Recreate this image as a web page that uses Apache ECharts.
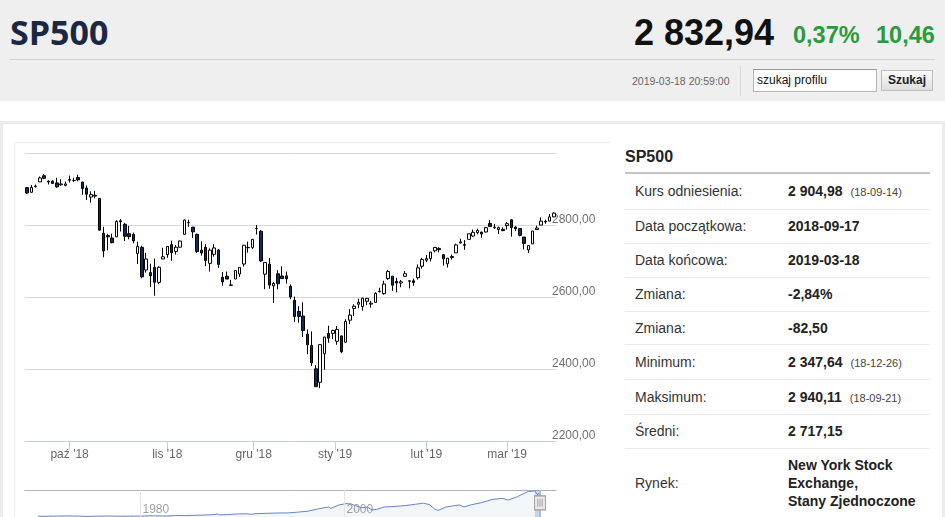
<!DOCTYPE html>
<html><head><meta charset="utf-8">
<script src="https://cdn.jsdelivr.net/npm/echarts@6/dist/echarts.min.js"></script>
<style>
html,body{margin:0;padding:0;width:945px;height:517px;overflow:hidden;background:#fff;font-family:'Liberation Sans',Arial,sans-serif;color:#333;}
.abs{position:absolute;white-space:nowrap;}
#hdr{position:absolute;left:0;top:0;width:945px;height:101px;background:#efefef;}
#panel{position:absolute;left:0;top:121px;width:945px;height:420px;border:3px solid #ececec;box-sizing:border-box;background:#fff;}
#chartbox{position:absolute;left:14px;top:142px;width:596px;height:390px;border-left:1px solid #eeeeee;border-top:1px solid #eeeeee;}
#chart{position:absolute;left:0;top:0;width:596px;height:390px;}
.row{position:absolute;left:625px;width:305px;border-bottom:1px solid #ebebeb;box-sizing:border-box;font-size:14px;}
.lab{position:absolute;left:10px;top:0;color:#333;}
.val{position:absolute;left:163px;top:0;font-weight:bold;color:#222;}
.dt{font-weight:normal;font-size:11px;color:#444;margin-left:8px;}
</style></head><body>
<div id="hdr">
  <div class="abs" style="left:10px;top:11px;line-height:42px;font-family:'Open Sans',sans-serif;font-weight:700;font-size:34px;color:#1b2844;">SP500</div>
  <div class="abs" style="left:634px;top:13px;line-height:40px;font-weight:700;font-size:36px;color:#111;">2 832,94</div>
  <div class="abs" style="left:793px;top:20px;line-height:30px;font-weight:700;font-size:23.5px;color:#2b9a3b;">0,37%</div>
  <div class="abs" style="left:876px;top:20px;line-height:30px;font-weight:700;font-size:23.5px;color:#2b9a3b;">10,46</div>
  <div class="abs" style="left:10px;top:59px;width:925px;height:1px;background:#d2d2d2;"></div>
  <div class="abs" style="left:632px;top:74px;line-height:14px;font-size:10.5px;color:#666;">2019-03-18 20:59:00</div>
  <div class="abs" style="left:740px;top:66px;width:1px;height:30px;background:#d8d8d8;"></div>
  <div class="abs" style="left:753px;top:69px;width:124px;height:23px;box-sizing:border-box;background:#fff;border:1px solid #b5b5b5;border-top-color:#999;font-size:12px;line-height:21px;padding-left:3px;color:#111;">szukaj profilu</div>
  <div class="abs" style="left:881px;top:70px;width:52px;height:21px;box-sizing:border-box;background:linear-gradient(#fbfbfb,#dedede);border:1px solid #bdbdbd;font-size:12px;font-weight:bold;line-height:19px;text-align:center;color:#222;">Szukaj</div>
</div>
<div id="panel"></div>
<div id="chartbox"><div id="chart"></div></div>

<div class="abs" style="left:625px;top:147px;line-height:20px;font-size:16px;font-weight:bold;color:#222;">SP500</div>
<div class="abs" style="left:625px;top:172px;width:305px;height:2px;background:#c4c4c4;"></div>
<div class="row" style="top:174px;height:36px;line-height:35px;"><span class="lab">Kurs odniesienia:</span><span class="val">2 904,98<span class="dt">(18-09-14)</span></span></div>
<div class="row" style="top:210px;height:34px;line-height:33px;"><span class="lab">Data początkowa:</span><span class="val">2018-09-17</span></div>
<div class="row" style="top:244px;height:34px;line-height:33px;"><span class="lab">Data końcowa:</span><span class="val">2019-03-18</span></div>
<div class="row" style="top:278px;height:34px;line-height:33px;"><span class="lab">Zmiana:</span><span class="val">-2,84%</span></div>
<div class="row" style="top:312px;height:33px;line-height:32px;"><span class="lab">Zmiana:</span><span class="val">-82,50</span></div>
<div class="row" style="top:345px;height:35px;line-height:34px;"><span class="lab">Minimum:</span><span class="val">2 347,64<span class="dt">(18-12-26)</span></span></div>
<div class="row" style="top:380px;height:35px;line-height:34px;"><span class="lab">Maksimum:</span><span class="val">2 940,11<span class="dt">(18-09-21)</span></span></div>
<div class="row" style="top:415px;height:34px;line-height:33px;"><span class="lab">Średni:</span><span class="val">2 717,15</span></div>
<div class="row" style="top:449px;height:68px;line-height:68px;border-bottom:none;"><span class="lab">Rynek:</span><span class="val" style="top:7px;line-height:18px;">New York Stock<br>Exchange,<br>Stany Zjednoczone</span></div>

<script>
// ---- data: daily candles (trading days) ----
const dates = ['2018-09-17','2018-09-18','2018-09-19','2018-09-20','2018-09-21','2018-09-24','2018-09-25','2018-09-26','2018-09-27','2018-09-28',
'2018-10-01','2018-10-02','2018-10-03','2018-10-04','2018-10-05','2018-10-08','2018-10-09','2018-10-10','2018-10-11','2018-10-12','2018-10-15','2018-10-16','2018-10-17','2018-10-18','2018-10-19','2018-10-22','2018-10-23','2018-10-24','2018-10-25','2018-10-26','2018-10-29','2018-10-30','2018-10-31',
'2018-11-01','2018-11-02','2018-11-05','2018-11-06','2018-11-07','2018-11-08','2018-11-09','2018-11-12','2018-11-13','2018-11-14','2018-11-15','2018-11-16','2018-11-19','2018-11-20','2018-11-21','2018-11-23','2018-11-26','2018-11-27','2018-11-28','2018-11-29','2018-11-30',
'2018-12-03','2018-12-04','2018-12-06','2018-12-07','2018-12-10','2018-12-11','2018-12-12','2018-12-13','2018-12-14','2018-12-17','2018-12-18','2018-12-19','2018-12-20','2018-12-21','2018-12-24','2018-12-26','2018-12-27','2018-12-28','2018-12-31',
'2019-01-02','2019-01-03','2019-01-04','2019-01-07','2019-01-08','2019-01-09','2019-01-10','2019-01-11','2019-01-14','2019-01-15','2019-01-16','2019-01-17','2019-01-18','2019-01-22','2019-01-23','2019-01-24','2019-01-25','2019-01-28','2019-01-29','2019-01-30','2019-01-31',
'2019-02-01','2019-02-04','2019-02-05','2019-02-06','2019-02-07','2019-02-08','2019-02-11','2019-02-12','2019-02-13','2019-02-14','2019-02-15','2019-02-19','2019-02-20','2019-02-21','2019-02-22','2019-02-25','2019-02-26','2019-02-27','2019-02-28',
'2019-03-01','2019-03-04','2019-03-05','2019-03-06','2019-03-07','2019-03-08','2019-03-11','2019-03-12','2019-03-13','2019-03-14','2019-03-15','2019-03-18'];
const openVals = [2903.83,2890.74,2906.60,2919.73,2936.76,2921.83,2921.75,2916.98,2911.65,2910.03,
2926.29,2923.80,2931.69,2919.35,2902.54,2877.53,2882.51,2873.90,2776.87,2770.54,2763.83,2767.05,2811.67,2802.00,2775.66,2773.94,2721.03,2737.87,2674.88,2667.86,2682.65,2640.68,2705.60,
2717.58,2745.45,2726.37,2738.40,2774.13,2806.38,2794.10,2773.93,2730.05,2737.90,2693.52,2718.54,2730.74,2654.60,2657.74,2633.36,2649.97,2663.75,2691.45,2736.97,2737.76,
2790.50,2782.43,2663.51,2691.26,2630.86,2664.44,2658.23,2658.70,2629.68,2590.75,2559.90,2547.05,2496.77,2465.38,2400.56,2363.12,2442.50,2498.77,2498.94,
2476.96,2491.92,2474.33,2535.61,2568.11,2580.00,2573.51,2588.11,2580.31,2585.10,2614.75,2609.28,2651.27,2657.88,2643.48,2638.84,2657.44,2644.97,2644.89,2653.62,2685.49,
2702.32,2706.49,2728.34,2735.05,2717.53,2692.36,2712.40,2722.61,2750.30,2743.50,2760.24,2769.28,2779.05,2780.24,2780.67,2804.35,2792.36,2787.50,2788.11,
2798.22,2814.37,2794.41,2790.27,2766.53,2730.79,2747.61,2787.34,2799.78,2810.38,2810.79,2822.61];
const highVals = [2904.65,2911.17,2912.36,2934.80,2940.91,2923.79,2923.95,2931.15,2927.22,2920.53,
2937.06,2931.42,2939.86,2919.78,2909.64,2893.53,2894.83,2874.02,2795.14,2775.77,2775.99,2813.46,2816.94,2806.04,2797.77,2778.94,2753.59,2742.59,2722.70,2692.38,2706.85,2685.43,2736.69,
2741.67,2756.55,2744.27,2756.82,2815.15,2814.75,2794.10,2775.99,2754.60,2746.80,2735.38,2746.75,2733.16,2669.44,2670.73,2647.55,2674.35,2682.53,2744.00,2753.75,2760.88,
2800.18,2785.93,2696.15,2708.54,2641.34,2674.35,2685.44,2670.19,2635.07,2601.13,2573.99,2585.29,2509.63,2504.41,2410.34,2467.76,2489.10,2520.27,2509.24,
2519.49,2493.14,2538.07,2566.16,2579.82,2595.32,2597.82,2596.27,2589.32,2613.08,2625.76,2645.06,2675.47,2657.88,2653.19,2647.20,2672.38,2644.97,2650.93,2690.44,2708.95,
2716.66,2724.99,2738.98,2738.08,2719.32,2708.07,2718.05,2748.19,2761.85,2757.90,2775.66,2787.33,2789.88,2781.58,2794.20,2813.49,2803.12,2795.76,2793.73,
2808.02,2816.88,2796.44,2790.27,2766.53,2744.13,2784.00,2798.32,2821.24,2815.00,2830.73,2835.41];
const lowVals = [2886.16,2890.43,2903.82,2919.73,2927.11,2912.63,2913.70,2903.28,2909.27,2907.50,
2917.91,2919.37,2921.36,2883.92,2869.29,2862.08,2874.27,2784.86,2710.51,2729.44,2749.03,2766.91,2781.81,2755.18,2760.27,2749.22,2691.43,2651.89,2667.84,2628.16,2603.54,2635.34,2705.60,
2708.85,2700.44,2717.94,2737.08,2774.13,2794.99,2764.24,2722.00,2714.98,2685.75,2670.75,2712.16,2681.09,2631.52,2649.82,2631.09,2649.97,2655.89,2684.38,2722.94,2732.76,
2773.38,2697.18,2621.53,2623.14,2583.23,2621.30,2650.26,2637.27,2593.84,2530.54,2528.71,2488.96,2441.18,2408.55,2351.10,2346.58,2397.94,2472.89,2482.82,
2467.47,2443.96,2474.33,2524.56,2547.56,2568.89,2562.02,2577.40,2570.41,2585.10,2612.68,2606.36,2647.58,2617.27,2612.86,2627.01,2657.33,2624.06,2631.05,2648.34,2678.65,
2696.88,2698.75,2724.03,2724.15,2687.26,2681.83,2703.79,2722.61,2748.63,2731.23,2760.24,2767.29,2774.06,2764.55,2779.11,2794.99,2789.47,2775.13,2782.51,
2787.38,2767.66,2782.97,2768.69,2732.08,2722.27,2747.61,2786.73,2799.78,2803.46,2810.79,2821.99];
const closeVals = [2888.80,2904.31,2907.95,2930.75,2929.67,2919.37,2915.56,2905.97,2914.00,2913.98,
2924.59,2923.43,2925.51,2901.61,2885.57,2884.43,2880.34,2785.68,2728.37,2767.13,2750.79,2809.92,2809.21,2768.78,2767.78,2755.88,2740.69,2656.10,2705.57,2658.69,2641.25,2682.63,2711.74,
2740.37,2723.06,2738.31,2755.45,2813.89,2806.83,2781.01,2726.22,2722.18,2701.58,2730.20,2736.27,2690.73,2641.89,2649.93,2632.56,2673.45,2682.17,2743.79,2737.80,2760.17,
2790.37,2700.06,2695.95,2633.08,2637.72,2636.78,2651.07,2650.54,2599.95,2545.94,2546.16,2506.96,2467.42,2416.62,2351.10,2467.70,2488.83,2485.74,2506.85,
2510.03,2447.89,2531.94,2549.69,2574.41,2584.96,2596.64,2596.26,2582.61,2610.30,2616.10,2635.96,2670.71,2632.90,2638.70,2642.33,2664.76,2643.85,2640.00,2681.05,2704.10,
2706.53,2724.87,2737.70,2731.61,2706.05,2707.88,2709.80,2744.73,2753.03,2745.73,2775.60,2779.76,2784.70,2774.88,2792.67,2796.11,2793.90,2792.38,2784.49,
2803.69,2792.81,2789.65,2771.45,2748.93,2743.07,2783.30,2791.52,2810.92,2808.48,2822.48,2832.94];

// ---- axis tick labels ----
const monthStarts = ['2018-10-01','2018-11-01','2018-12-01','2019-01-01','2019-02-01','2019-03-01'];
const monthLabels = ["paź '18","lis '18","gru '18","sty '19","lut '19","mar '19"];
const yTicks = [2200, 2400, 2600, 2800, 3000];

// ---- navigator (long-term history) ----
const navYears = [1970.0,1970.4,1971.0,1972.0,1972.9,1973.5,1974.0,1974.8,1975.5,1976.5,1977.0,1978.2,1979.0,1980.2,1980.9,1981.5,1982.6,1983.5,1984.5,1985.0,1986.0,1987.0,1987.65,1987.85,1988.5,1989.5,1990.5,1990.8,1991.5,1992.5,1993.5,1994.5,1995.5,1996.5,1997.5,1998.5,1998.7,1999.5,2000.2,2000.7,2001.0,2001.7,2002.3,2002.75,2003.2,2004.0,2005.0,2006.0,2007.0,2007.8,2008.4,2008.9,2009.2,2010.0,2011.3,2011.75,2012.5,2013.5,2014.5,2015.5,2016.1,2017.0,2018.05,2018.15,2018.7,2018.98,2019.21];
const navValues = [92,72,95,102,118,105,97,65,92,104,107,89,99,102,136,131,107,165,152,180,212,250,330,230,270,340,360,305,380,415,450,455,550,660,920,1120,960,1350,1500,1470,1320,1050,1100,800,850,1130,1190,1280,1430,1550,1380,880,730,1120,1360,1130,1380,1620,1960,2100,1900,2280,2860,2640,2920,2500,2833];
const navTickYears = [1980, 2000];
const navTickLabels = ['1980', '2000'];
const navRange = [2018.71, 2019.21];

// ordinal position of a calendar date among trading days
function ordinalPos(d) {
  const t = Date.parse(d);
  for (let i = 0; i < dates.length; i++) {
    const ti = Date.parse(dates[i]);
    if (ti >= t) {
      if (ti === t || i === 0) return i;
      const tp = Date.parse(dates[i - 1]);
      return i - 1 + (t - tp) / (ti - tp);
    }
  }
  return dates.length - 1;
}
const tickPos = monthStarts.map(ordinalPos);
function tickLabel(v) {
  let best = 0;
  for (let i = 1; i < tickPos.length; i++) if (Math.abs(tickPos[i] - v) < Math.abs(tickPos[best] - v)) best = i;
  return monthLabels[best];
}

const candleData = dates.map((d, i) => [openVals[i], closeVals[i], lowVals[i], highVals[i]]);
const navData = navYears.map((y, i) => [y, navValues[i]]);
const fmtY = v => v === yTicks[yTicks.length - 1] ? '' : v.toFixed(2).replace('.', ',');

const chart = echarts.init(document.getElementById('chart'), null, {renderer: 'canvas'});
chart.setOption({
  animation: false,
  grid: [
    {left: 10, top: 10, width: 531, height: 288},
    {left: 10, top: 347, width: 531, height: 27}
  ],
  xAxis: [
    {type: 'category', gridIndex: 0, data: dates, boundaryGap: true, position: 'bottom',
     axisLine: {show: true, lineStyle: {color: '#C0D0E0', width: 1}},
     axisTick: {show: false}, axisLabel: {show: false}, splitLine: {show: false}},
    {type: 'value', gridIndex: 0, min: -0.5, max: dates.length - 0.5, position: 'bottom',
     axisLine: {show: false},
     axisTick: {show: true, customValues: tickPos, length: 9, lineStyle: {color: '#C0D0E0'}},
     axisLabel: {show: true, customValues: tickPos, formatter: tickLabel, color: '#666', fontSize: 12, margin: 8, fontFamily: 'Liberation Sans'},
     splitLine: {show: false}},
    {type: 'value', gridIndex: 1, min: 1968.73, max: 2020.78, position: 'top',
     axisLine: {show: true, onZero: false, lineStyle: {color: '#b2b1b6'}},
     axisTick: {show: false}, axisLabel: {show: false}, splitLine: {show: false}}
  ],
  yAxis: [
    {type: 'value', gridIndex: 0, min: yTicks[0], max: yTicks[yTicks.length - 1], interval: 200, position: 'right',
     axisLine: {show: false}, axisTick: {show: false},
     splitLine: {show: true, lineStyle: {color: '#d8d8d8', width: 1}},
     axisLabel: {show: true, formatter: fmtY, color: '#707070', fontSize: 12, margin: -4, verticalAlign: 'bottom', lineHeight: 10, fontFamily: 'Liberation Sans'}},
    {type: 'value', gridIndex: 1, min: 0, max: 3030, show: false}
  ],
  series: [
    {type: 'candlestick', xAxisIndex: 0, yAxisIndex: 0, data: candleData, barWidth: 3,
     itemStyle: {color: '#ffffff', color0: '#102b5a', borderColor: '#000000', borderColor0: '#000000', borderWidth: 1},
     silent: true},
    {type: 'line', xAxisIndex: 2, yAxisIndex: 1, data: navData, showSymbol: false, symbol: 'none', silent: true,
     lineStyle: {color: '#6685c2', width: 1}, areaStyle: {color: 'rgba(69,114,167,0.09)'},
     markLine: {silent: true, symbol: ['none', 'none'], label: {show: false},
       lineStyle: {color: '#e4e4e4', width: 1, type: 'solid'},
       data: navTickYears.map(y => ({xAxis: y})).concat([{xAxis: navRange[1], lineStyle: {color: '#a9bde0', width: 2, type: 'solid'}}])},
     markArea: {silent: true, itemStyle: {color: 'rgba(102,133,194,0.3)'}, data: [[{xAxis: navRange[0]}, {xAxis: navRange[1]}]]},
     markPoint: {silent: true, label: {show: false}, data: [
       {coord: [navRange[1], 1590], symbol: 'rect', symbolSize: [11, 14], itemStyle: {color: '#ebe7e8', borderColor: '#999', borderWidth: 1}},
       {coord: [navRange[1], 1590], symbol: 'path://M0,0h1v10h-1z M3,0h1v10h-1z M6,0h1v10h-1z', symbolSize: [5, 8], itemStyle: {color: '#888'}}
     ]}},
    {type: 'scatter', xAxisIndex: 2, yAxisIndex: 1, silent: true, symbolSize: 1,
     itemStyle: {color: 'rgba(0,0,0,0)'},
     data: navTickYears.map(y => [y, 800]),
     label: {show: true, position: 'right', distance: 2, formatter: p => navTickLabels[p.dataIndex], color: '#888', fontSize: 12, fontFamily: 'Liberation Sans'}}
  ]
});
</script>
</body></html>
